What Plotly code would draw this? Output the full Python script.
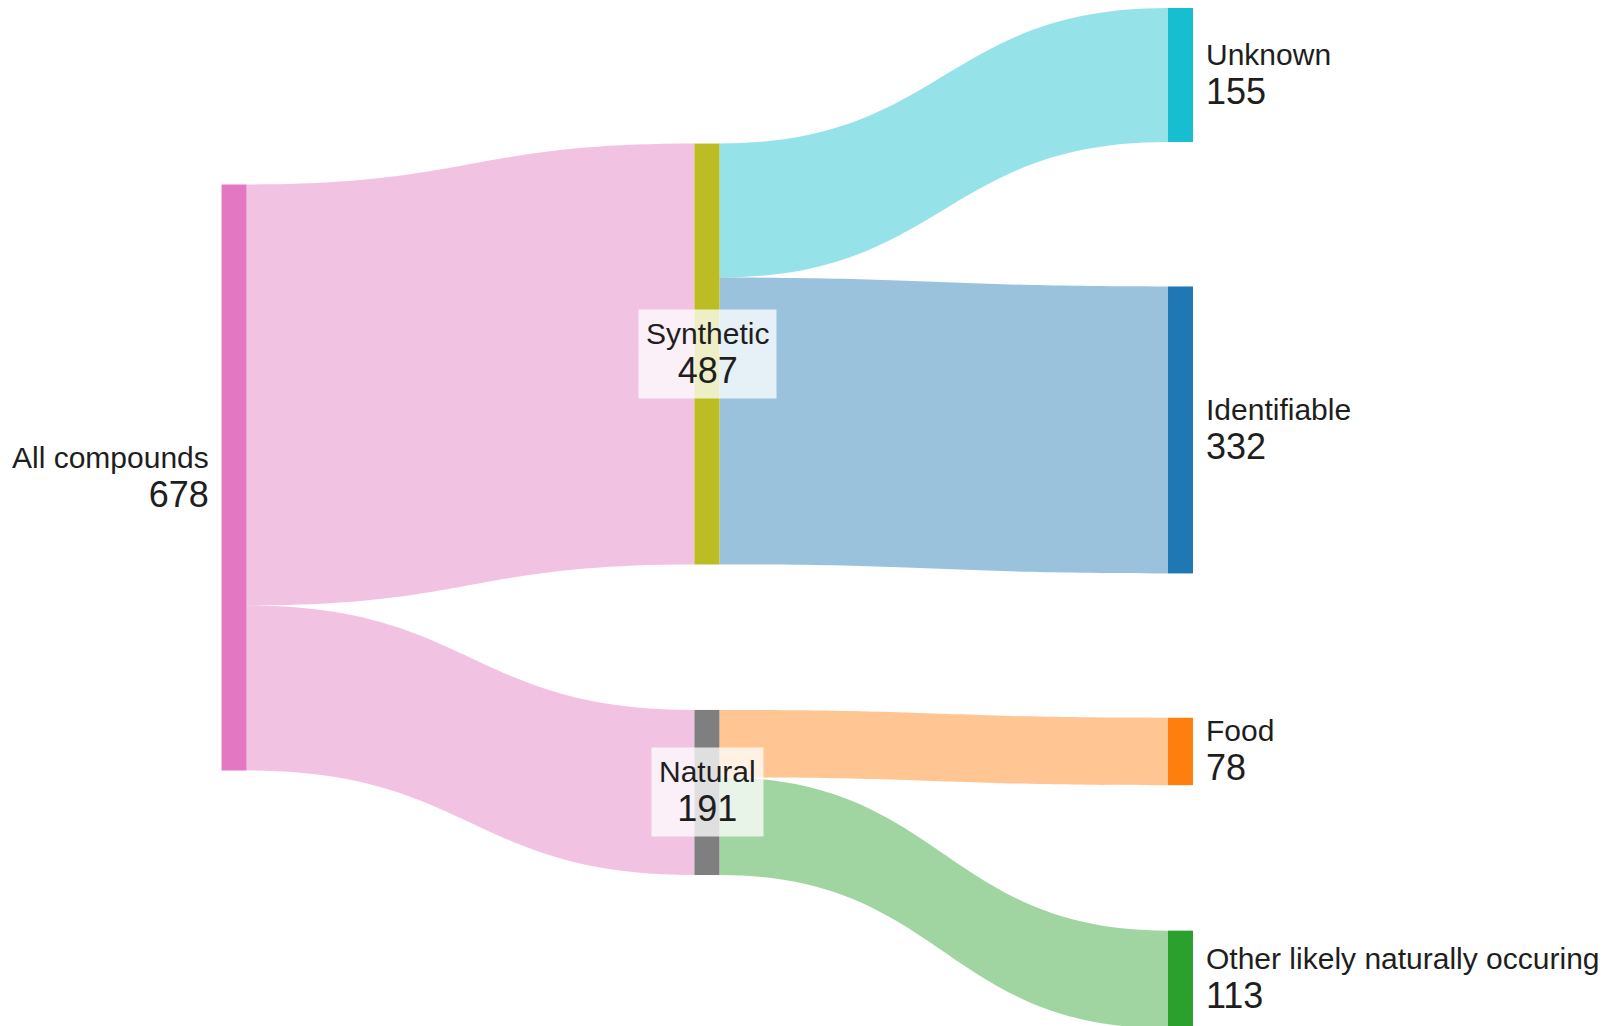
import plotly.graph_objects as go

# ---- data ----
node_names = ["All compounds", "Synthetic", "Natural", "Unknown", "Identifiable",
              "Food", "Other likely naturally occuring"]
node_totals = [678, 487, 191, 155, 332, 78, 113]
link_source = [0, 0, 1, 1, 2, 2]
link_target = [1, 2, 3, 4, 5, 6]
link_value = [487, 191, 155, 332, 78, 113]

# ---- styling / layout (not data) ----
node_colors = ["#e377c2", "#bcbd22", "#7f7f7f", "#17becf", "#1f77b4", "#ff7f0e", "#2ca02c"]
node_x = [0.145, 0.438, 0.438, 0.7314, 0.7314, 0.7314, 0.7314]
node_y = [0.4612, 0.3399, 0.7706, 0.0658, 0.4145, 0.7303, 0.9543]
label_side = ["left", "mid", "mid", "right", "right", "right", "right"]

W, H = 1614, 1026
THICK = 25
FONT = "Liberation Sans, Arial, sans-serif"


def hex_rgba(h, a):
    h = h.lstrip("#")
    return f"rgba({int(h[0:2],16)},{int(h[2:4],16)},{int(h[4:6],16)},{a})"


link_colors = []
for s, t in zip(link_source, link_target):
    c = node_colors[s] if s == 0 else node_colors[t]
    link_colors.append(hex_rgba(c, 0.45))

fig = go.Figure(go.Sankey(
    arrangement="snap",
    domain=dict(x=[0, 1], y=[0, 1]),
    node=dict(
        label=["" for _ in node_names],
        color=node_colors,
        x=node_x,
        y=node_y,
        pad=144,
        thickness=THICK,
        line=dict(width=0),
    ),
    link=dict(
        source=link_source,
        target=link_target,
        value=link_value,
        color=link_colors,
    ),
    hoverinfo="none",
))

annotations = []
for i, name in enumerate(node_names):
    side = label_side[i]
    txt = f"{name}<br><span style='font-size:36px'>{node_totals[i]}</span>"
    a = dict(
        xref="paper", yref="paper",
        x=node_x[i], y=1 - node_y[i],
        text=txt, showarrow=False,
        yanchor="middle",
        font=dict(family=FONT, size=30, color="#1e1e1e"),
    )
    if side == "left":
        a.update(xanchor="right", align="right", xshift=-(THICK / 2 + 11))
    elif side == "right":
        a.update(xanchor="left", align="left", xshift=(THICK / 2 + 11))
    else:
        a.update(xanchor="center", align="center", xshift=1,
                 bgcolor="rgba(255,255,255,0.75)", borderpad=7)
    annotations.append(a)

fig.update_layout(
    width=W, height=H,
    margin=dict(l=0, r=0, t=8, b=0),
    paper_bgcolor="white",
    plot_bgcolor="white",
    annotations=annotations,
    font=dict(family=FONT),
)

fig.write_html("out.html", config={"displayModeBar": False},
               post_script="document.body.style.margin='0';")
